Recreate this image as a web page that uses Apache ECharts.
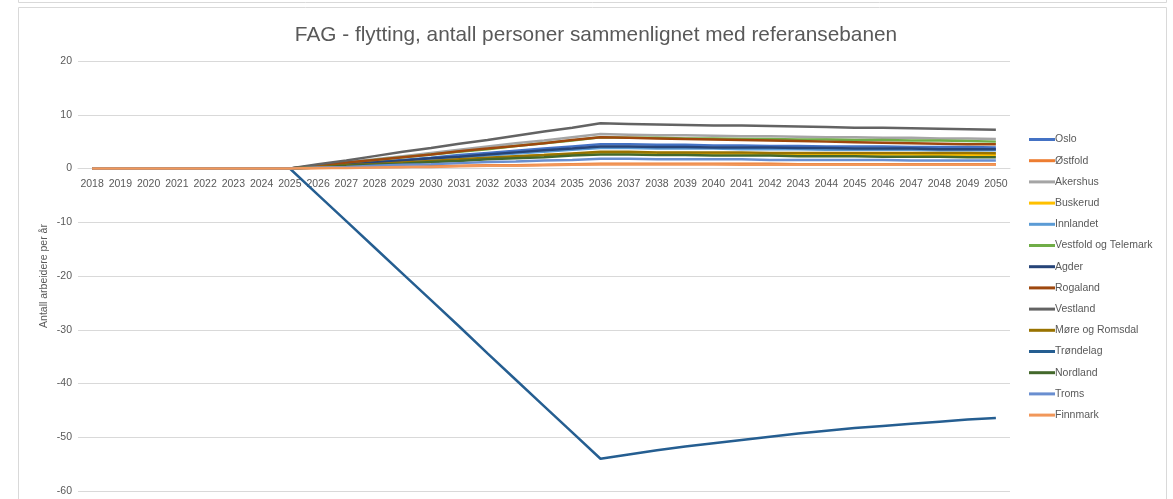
<!DOCTYPE html>
<html>
<head>
<meta charset="utf-8">
<script src="https://cdn.jsdelivr.net/npm/echarts@6/dist/echarts.min.js"></script>
<style>
  html, body { margin: 0; padding: 0; background: #fff; }
  #chart { width: 1173px; height: 499px; }
</style>
</head>
<body>
<div id="chart"></div>
<script>
// years on the x axis
let years = [];
for (let y = 2018; y <= 2050; y++) years.push(String(y));

let yTicks = [-60, -50, -40, -30, -20, -10, 0, 10, 20];

// 2018-2025 flat at zero, then values
let zeros = [0, 0, 0, 0, 0, 0, 0, 0];
let oslo = zeros.concat([0.4, 0.8, 1.2, 1.6, 2.0, 2.5, 2.9, 3.3, 3.7, 4.1, 4.5, 4.5, 4.4, 4.4, 4.3, 4.3, 4.2, 4.2, 4.1, 4.1, 4.1, 4.0, 4.0, 4.0, 3.9]);
let ostfold = zeros.concat([0.1, 0.2, 0.3, 0.3, 0.4, 0.5, 0.6, 0.6, 0.7, 0.8, 0.9, 0.9, 0.9, 0.9, 0.9, 0.9, 0.9, 0.8, 0.8, 0.8, 0.8, 0.8, 0.8, 0.8, 0.8]);
let akershus = zeros.concat([0.6, 1.2, 1.7, 2.3, 2.9, 3.5, 4.1, 4.7, 5.2, 5.8, 6.4, 6.3, 6.2, 6.2, 6.1, 6.0, 6.0, 5.9, 5.8, 5.8, 5.7, 5.7, 5.6, 5.6, 5.5]);
let buskerud = zeros.concat([0.3, 0.5, 0.8, 1.1, 1.4, 1.6, 1.9, 2.2, 2.5, 2.7, 3.0, 3.0, 2.9, 2.9, 2.8, 2.8, 2.7, 2.7, 2.7, 2.6, 2.6, 2.6, 2.5, 2.5, 2.5]);
let innlandet = zeros.concat([0.3, 0.7, 1.0, 1.4, 1.7, 2.1, 2.4, 2.8, 3.1, 3.5, 3.8, 3.8, 3.7, 3.7, 3.7, 3.6, 3.6, 3.6, 3.5, 3.5, 3.5, 3.5, 3.4, 3.4, 3.4]);
let vestfold = zeros.concat([0.5, 1.0, 1.6, 2.1, 2.6, 3.1, 3.6, 4.2, 4.7, 5.2, 5.8, 5.7, 5.7, 5.6, 5.6, 5.5, 5.5, 5.4, 5.4, 5.3, 5.3, 5.2, 5.2, 5.1, 5.0]);
let agder = zeros.concat([0.4, 0.7, 1.1, 1.5, 1.9, 2.2, 2.6, 3.0, 3.4, 3.7, 4.1, 4.1, 4.0, 4.0, 3.9, 3.9, 3.9, 3.8, 3.8, 3.7, 3.7, 3.7, 3.6, 3.6, 3.6]);
let rogaland = zeros.concat([0.5, 1.1, 1.6, 2.1, 2.6, 3.2, 3.7, 4.2, 4.7, 5.3, 5.8, 5.7, 5.6, 5.5, 5.4, 5.3, 5.2, 5.1, 5.0, 4.9, 4.8, 4.7, 4.6, 4.5, 4.5]);
let vestland = zeros.concat([0.8, 1.5, 2.3, 3.1, 3.8, 4.6, 5.3, 6.1, 6.9, 7.6, 8.4, 8.3, 8.2, 8.1, 8.0, 8.0, 7.9, 7.8, 7.7, 7.6, 7.6, 7.5, 7.4, 7.3, 7.2]);
let more = zeros.concat([0.3, 0.6, 0.8, 1.1, 1.4, 1.7, 2.0, 2.3, 2.5, 2.8, 3.1, 3.1, 3.0, 3.0, 3.0, 3.0, 2.9, 2.9, 2.9, 2.9, 2.9, 2.9, 2.9, 2.9, 2.85]);
let trondelag = zeros.concat([-4.9, -9.8, -14.7, -19.6, -24.5, -29.4, -34.4, -39.3, -44.2, -49.1, -54.0, -53.2, -52.4, -51.7, -51.1, -50.5, -49.9, -49.3, -48.8, -48.3, -47.9, -47.5, -47.1, -46.7, -46.4]);
let nordland = zeros.concat([0.2, 0.5, 0.7, 0.9, 1.2, 1.4, 1.7, 1.9, 2.1, 2.4, 2.6, 2.6, 2.5, 2.5, 2.4, 2.4, 2.4, 2.3, 2.3, 2.3, 2.2, 2.2, 2.2, 2.1, 2.1]);
let troms = zeros.concat([0.2, 0.3, 0.5, 0.7, 0.8, 1.0, 1.2, 1.3, 1.5, 1.6, 1.8, 1.8, 1.7, 1.7, 1.7, 1.7, 1.6, 1.6, 1.6, 1.6, 1.6, 1.5, 1.5, 1.5, 1.5]);
let finnmark = zeros.concat([0.1, 0.1, 0.2, 0.3, 0.3, 0.4, 0.5, 0.5, 0.6, 0.7, 0.75, 0.75, 0.75, 0.75, 0.75, 0.7, 0.7, 0.7, 0.7, 0.7, 0.7, 0.7, 0.7, 0.7, 0.7]);

let names = ['Oslo', 'Østfold', 'Akershus', 'Buskerud', 'Innlandet', 'Vestfold og Telemark', 'Agder',
    'Rogaland', 'Vestland', 'Møre og Romsdal', 'Trøndelag', 'Nordland', 'Troms', 'Finnmark'];
let values = [oslo, ostfold, akershus, buskerud, innlandet, vestfold, agder,
    rogaland, vestland, more, trondelag, nordland, troms, finnmark];
let colors = ['#4472C4', '#ED7D31', '#A5A5A5', '#FFC000', '#5B9BD5', '#70AD47', '#264478',
    '#9E480E', '#636363', '#997300', '#255E91', '#43682B', '#698ED0', '#F1975A'];

let chart = echarts.init(document.getElementById('chart'));

let series = names.map(function(name, i){
    return {
        name: name,
        type: 'line',
        data: values[i],
        symbol: 'none',
        smooth: false,
        lineStyle: {width: 2.5, color: colors[i]},
        itemStyle: {color: colors[i]}
    };
});

let txt = '#595959';
let font = 'Liberation Sans, Arial, sans-serif';

// grid box: top 61, bottom 491 -> zero line sits at 61 + 430 * 20 / 80
let zeroOffset = 491 - (61 + 430 * (yTicks[yTicks.length - 1] / (yTicks[yTicks.length - 1] - yTicks[0])));

chart.setOption({
    animation: false,
    textStyle: {fontFamily: font},
    title: {
        text: 'FAG - flytting, antall personer sammenlignet med referansebanen',
        left: 591,
        textAlign: 'center',
        top: 20,
        textStyle: {fontSize: 20.8, fontWeight: 'normal', color: txt, fontFamily: font}
    },
    graphic: [
        {type: 'rect', shape: {x: 18.5, y: -10, width: 1148, height: 12.5}, style: {fill: 'none', stroke: '#d9d9d9', lineWidth: 1}},
        {type: 'rect', shape: {x: 18.5, y: 7.5, width: 1148, height: 500}, style: {fill: 'none', stroke: '#d9d9d9', lineWidth: 1}}
    ],
    legend: {
        orient: 'vertical',
        left: 1029,
        top: 134,
        padding: 0,
        icon: 'rect',
        itemWidth: 26,
        itemHeight: 3,
        itemGap: 10.2,
        data: names,
        textStyle: {fontSize: 10.5, color: txt, padding: [0, 0, 0, -5]}
    },
    grid: {left: 78, right: 163, top: 61, bottom: 8},
    xAxis: {
        type: 'category',
        data: years,
        boundaryGap: true,
        offset: -zeroOffset,
        axisLine: {onZero: false, lineStyle: {color: '#d9d9d9', width: 1}},
        axisTick: {show: false},
        axisLabel: {interval: 0, color: txt, fontSize: 10.5, margin: 10}
    },
    yAxis: {
        type: 'value',
        min: yTicks[0],
        max: yTicks[yTicks.length - 1],
        interval: 10,
        name: 'Antall arbeidere per år',
        nameLocation: 'middle',
        nameGap: 28,
        nameMoveOverlap: false,
        nameTextStyle: {fontSize: 10.5, color: txt},
        axisLine: {show: false},
        axisTick: {show: false},
        axisLabel: {color: txt, fontSize: 10.5, margin: 6},
        splitLine: {lineStyle: {color: '#d9d9d9', width: 1}}
    },
    series: series
});
</script>
</body>
</html>
